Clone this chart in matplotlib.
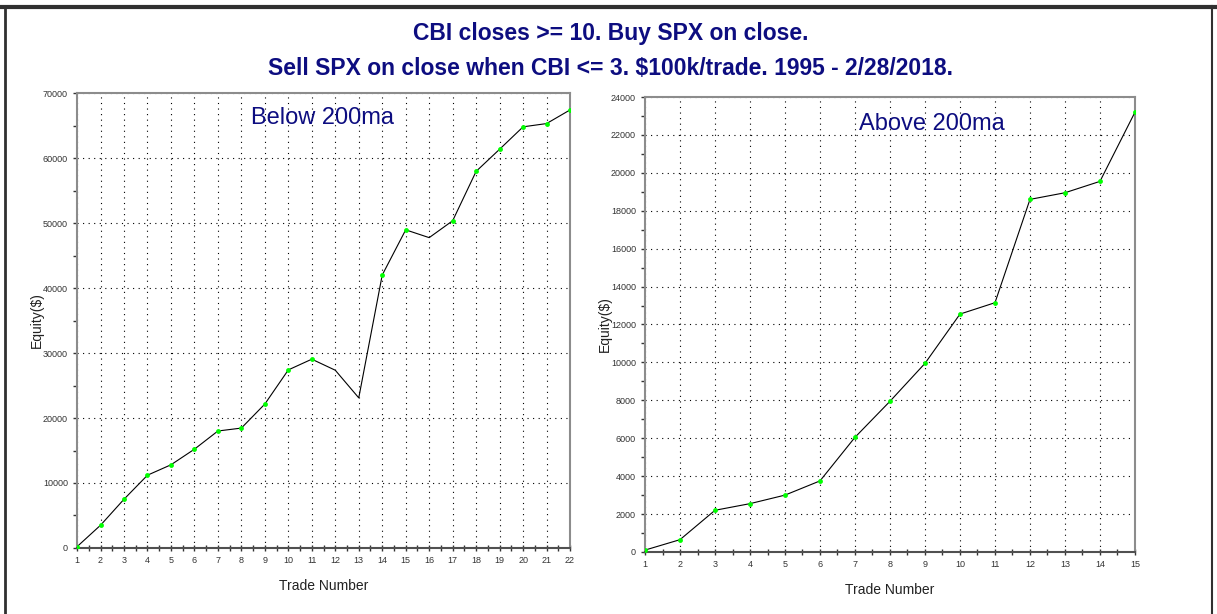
import matplotlib
matplotlib.use("Agg")
import matplotlib.pyplot as plt
from matplotlib.lines import Line2D
from matplotlib.ticker import MultipleLocator
import numpy as np

# equity curves
below_trades = list(range(1, 23))
below_equity = [200, 3500, 7500, 11200, 12800, 15200, 18000, 18450, 22150, 27400,
                29050, 27350, 23100, 42000, 48950, 47750, 50350, 57950, 61350, 64800,
                65300, 67400]

above_trades = list(range(1, 16))
above_equity = [100, 650, 2200, 2550, 3000, 3750, 6050, 7950, 9950, 12550,
                13150, 18600, 18950, 19550, 23200]

title_lines = ["CBI closes >= 10. Buy SPX on close.",
               "Sell SPX on close when CBI <= 3. $100k/trade. 1995 - 2/28/2018."]

NAVY = "#0d0d80"
FONT = ["Liberation Sans Narrow", "Liberation Sans", "DejaVu Sans"]
plt.rcParams["font.family"] = FONT

fig = plt.figure(figsize=(12.17, 6.14), dpi=100)
fig.patch.set_facecolor("white")

# outer frame of the screenshot
fig.add_artist(Line2D([0, 1], [0.989, 0.989], transform=fig.transFigure, color="#303030", lw=3))
fig.add_artist(Line2D([0.004, 0.004], [0, 0.99], transform=fig.transFigure, color="#303030", lw=2))
fig.add_artist(Line2D([0.996, 0.996], [0, 0.99], transform=fig.transFigure, color="#303030", lw=1.5))

fig.text(0.502, 0.945, title_lines[0], ha="center", va="center", fontsize=16.5,
         fontweight="bold", color=NAVY)
fig.text(0.502, 0.889, title_lines[1], ha="center", va="center", fontsize=16.5,
         fontweight="bold", color=NAVY)


def equity_panel(rect, trades, equity, ymax, ystep, yminor, label, label_xy):
    ax = fig.add_axes(rect)
    trades = np.asarray(trades)
    equity = np.asarray(equity)
    ax.plot(trades, equity, color="black", lw=0.8, zorder=3)
    # only winning trades get a marker
    win = np.r_[True, np.diff(equity) > 0]
    ax.plot(trades[win], equity[win], "o", color="#00ff00", ms=3.5, mec="none", zorder=4)

    ax.set_xlim(trades[0], trades[-1])
    ax.set_ylim(0, ymax)
    ax.set_xticks(trades)
    ax.xaxis.set_minor_locator(MultipleLocator(0.5))
    ax.yaxis.set_major_locator(MultipleLocator(ystep))
    ax.yaxis.set_minor_locator(MultipleLocator(yminor))
    ax.grid(True, which="major", ls=(0, (1, 4)), color="black", lw=0.8)

    ax.tick_params(axis="both", which="both", labelsize=6.5, colors="#333333",
                   labelcolor="#333333", width=1)
    ax.tick_params(axis="x", which="both", direction="inout", length=5)
    ax.tick_params(axis="y", which="both", direction="out", length=3)
    for s in ax.spines.values():
        s.set_color("#8c8c8c")
        s.set_linewidth(1.5)
    ax.spines["bottom"].set_color("#505050")

    ax.set_xlabel("Trade Number", fontsize=10, color="#222222", labelpad=10)
    ax.set_ylabel("Equity($)", fontsize=10, color="#222222", labelpad=-1)
    ax.text(label_xy[0], label_xy[1], label, transform=ax.transAxes, fontsize=17,
            color=NAVY, ha="left", va="center")
    return ax


equity_panel([0.0633, 0.1075, 0.4051, 0.741], below_trades, below_equity,
             70000, 10000, 5000, "Below 200ma", (0.352, 0.945))
equity_panel([0.530, 0.101, 0.4026, 0.741], above_trades, above_equity,
             24000, 2000, 1000, "Above 200ma", (0.437, 0.94))

fig.savefig("out.png", dpi=100, facecolor="white")
